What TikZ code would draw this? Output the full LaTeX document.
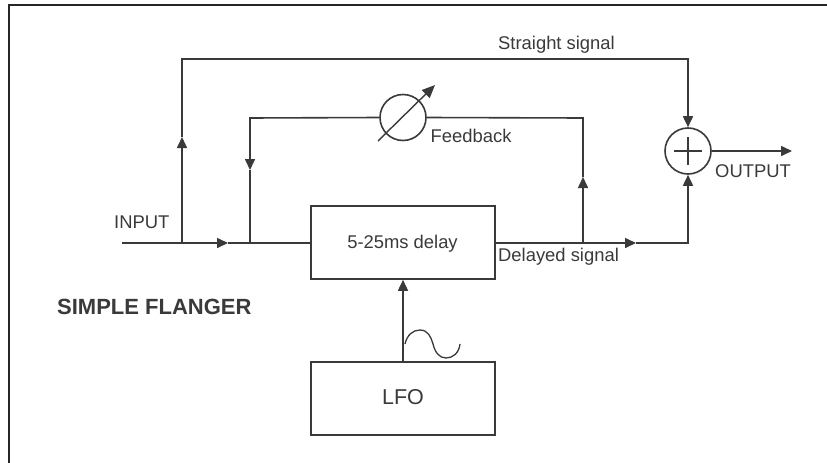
\documentclass[tikz,border=0pt]{standalone}
\usepackage{fontspec}
\setmainfont{Liberation Sans}
\usetikzlibrary{arrows.meta}
\definecolor{ink}{HTML}{3A3A3A}
\tikzset{
  x=1pt,y=-1pt,
  wire/.style={draw=ink,line width=1.6pt},
  tip/.style={wire,-{Triangle[length=11pt,width=10pt]}},
  blockbox/.style={draw=ink,line width=1.6pt,inner sep=0pt,text=ink,minimum width=184pt},
  ring/.style={circle,draw=ink,line width=1.6pt,minimum size=46pt,inner sep=0pt},
  lab/.style={text=ink,inner sep=0pt,font=\fontsize{18.4}{20}\selectfont},
  title/.style={text=ink,inner sep=0pt,font=\fontsize{22}{24}\selectfont\bfseries},
}
\begin{document}
\begin{tikzpicture}
\useasboundingbox (0,0) rectangle (827,463);
\path[fill=white] (0,0) rectangle (827,463);
\draw[line width=2pt,draw=black!85] (8.5,463) -- (8.5,4.5) -- (827,4.5);
% blocks
\node[blockbox,minimum height=73pt] (delay) at (403,242.5) {};
\node[lab] (delaytxt) at (402.5,244) {5-25ms delay};
\node[blockbox,minimum height=73pt] (lfo) at (403,398.5) {};
\node[lab,font=\fontsize{21.5}{24}\selectfont] (lfotxt) at (403,397) {LFO};
\node[ring] (fb) at (403,117.5) {};
\node[ring] (sum) at (688,151) {};
% sum cross
\coordinate (sl) at (674,151); \coordinate (sr) at (702,151);
\coordinate (st) at (688,137); \coordinate (sb) at (688,165);
\draw[draw=ink,line width=1.2pt] (sl) -- (sr) (st) -- (sb);
% fb dial
\coordinate (dialfrom) at (378,141); \coordinate (dialto) at (435,85);
\draw[draw=ink,line width=1.4pt,-{Triangle[length=13pt,width=11pt]}] (dialfrom) -- (dialto);
% junctions
\coordinate (in) at (122,243);
\coordinate (j1) at (182,243);
\coordinate (in2) at (228,243);
\coordinate (j2) at (250,243);
\coordinate (up1) at (182,137);
\coordinate (c1) at (182,59);
\coordinate (c2) at (688,59);
\coordinate (f1) at (250,118);
\coordinate (down2) at (250,170);
\coordinate (f2) at (583,118);
\coordinate (up3) at (583,177);
\coordinate (j3) at (583,243);
\coordinate (out1) at (636,243);
\coordinate (c3) at (688,243);
\coordinate (outend) at (792,151);
% wires
\draw[tip] (in) -- (in2);
\draw[wire] (in2) -- (delay.west |- in2);
\draw[tip] (j1) -- (up1);
\draw[tip] (up1) -- (c1) -- (c2) -- (sum.north);
\draw[tip] (fb.west) -- (f1) -- (down2);
\draw[wire] (down2) -- (j2);
\draw[tip] (j3) -- (up3);
\draw[wire] (up3) -- (f2) -- (fb.east);
\draw[tip] (delay.east |- j3) -- (out1);
\draw[tip] (out1) -- (c3) -- (sum.south);
\draw[tip] (sum.east) -- (outend);
\draw[tip] (lfo.north) -- (delay.south);
% sine
\draw[draw=ink,line width=1.3pt] (405,344) .. controls (407,335) and (413,330) .. (420,330) .. controls (428,330) and (431,337) .. (433,344) .. controls (435,352) and (439,358) .. (446,358) .. controls (453,358) and (459,353) .. (460,344);
% labels
\node[lab,anchor=west] (straight) at (498,45) {Straight signal};
\node[lab,anchor=west] (feedback) at (430.5,136) {Feedback};
\node[lab,anchor=west] (output) at (715,171) {OUTPUT};
\node[lab,anchor=west] (input) at (114,222) {INPUT};
\node[lab,anchor=west] (delayed) at (498,257) {Delayed signal};
\node[title,anchor=west] (name) at (57,307) {SIMPLE FLANGER};
\end{tikzpicture}
\end{document}
